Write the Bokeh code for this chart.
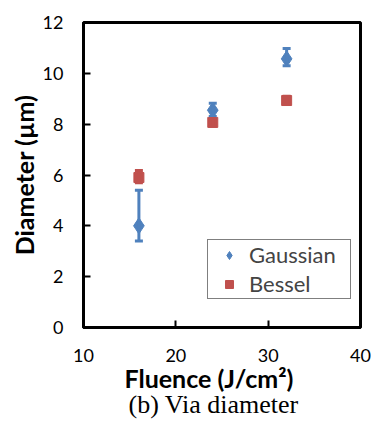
from bokeh.plotting import figure
from bokeh.models import ColumnDataSource, Whisker, TeeHead, Legend, LegendItem, FixedTicker, Title
from bokeh.embed import file_html
from bokeh.resources import INLINE

fluence = [16, 24, 32]
gauss = [4.0, 8.55, 10.57]
gauss_upper = [5.4, 8.82, 10.98]
gauss_lower = [3.4, 8.3, 10.3]
bessel = [5.9, 8.07, 8.93]
bessel_upper = [6.18, 8.22, 9.1]
bessel_lower = [5.7, 7.92, 8.78]

x_ticks = [10, 20, 30, 40]
y_ticks = [0, 2, 4, 6, 8, 10, 12]

BLUE = "#4F81BD"
RED = "#C0504D"
SANS = "Lato"

p = figure(width=371, height=421, x_range=(10, 40), y_range=(0, 12),
           output_backend="svg", toolbar_location=None,
           min_border_left=83, min_border_right=11, min_border_top=22, min_border_bottom=94)
p.grid.visible = False
p.outline_line_color = "black"
p.outline_line_width = 3
p.background_fill_color = "white"
p.border_fill_color = "white"

gs = ColumnDataSource(dict(x=fluence, y=gauss, up=gauss_upper, lo=gauss_lower))
bs = ColumnDataSource(dict(x=fluence, y=bessel, up=bessel_upper, lo=bessel_lower))

for src, col in ((gs, BLUE), (bs, RED)):
    w = Whisker(source=src, base="x", upper="up", lower="lo", dimension="height",
                line_color=col, line_width=3, level="glyph",
                upper_head=TeeHead(size=8, line_color=col, line_width=3),
                lower_head=TeeHead(size=8, line_color=col, line_width=3))
    p.add_layout(w)

g = p.scatter("x", "y", source=gs, marker="diamond", size=16, fill_color=BLUE, line_color=BLUE)
b = p.scatter("x", "y", source=bs, marker="square", size=10, fill_color=RED, line_color=RED)

for ax in (p.xaxis[0], p.yaxis[0]):
    ax.axis_line_color = "black"
    ax.axis_line_width = 3
    ax.major_tick_line_color = "black"
    ax.major_tick_line_width = 2
    ax.major_tick_in = 7
    ax.major_tick_out = 0
    ax.minor_tick_line_color = None
    ax.major_label_text_font = SANS
    ax.major_label_text_font_size = "18px"
    ax.major_label_text_color = "black"
    ax.axis_label_text_font = SANS
    ax.axis_label_text_font_style = "bold"
    ax.axis_label_text_font_size = "25px"
    ax.axis_label_text_color = "black"

p.xaxis.ticker = FixedTicker(ticks=x_ticks)
p.yaxis.ticker = FixedTicker(ticks=y_ticks)
p.xaxis.major_label_standoff = 21
p.yaxis.major_label_standoff = 20
p.yaxis.axis_label = "Diameter (µm)"
p.yaxis.axis_label_standoff = 1

xlabel = Title(text="Fluence (J/cm²)", align="left", offset=41, text_font=SANS,
               text_font_size="25px", text_font_style="bold", text_color="black",
               standoff=-8)
p.add_layout(xlabel, "below")

cap = Title(text="(b) Via diameter", align="left", offset=45, text_font="Liberation Serif",
            text_font_size="26px", text_font_style="normal", text_color="black",
            standoff=-2)
p.add_layout(cap, "below")

legend = Legend(items=[LegendItem(label="Gaussian", renderers=[g]),
                       LegendItem(label="Bessel", renderers=[b])],
                location=(124, 28), border_line_color="black", border_line_width=1,
                label_text_font=SANS, label_text_font_size="22px",
                background_fill_alpha=1, padding=1, spacing=2,
                glyph_width=40, glyph_height=20, label_height=20, label_width=100,
                label_standoff=0, margin=0)
p.add_layout(legend)

open("out.html", "w").write(file_html(p, INLINE))
